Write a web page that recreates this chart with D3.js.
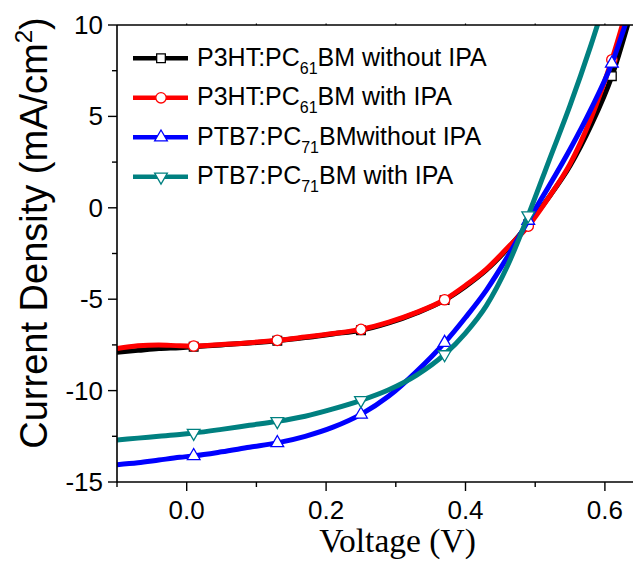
<!DOCTYPE html>
<html lang="en">
<head>
  <meta charset="UTF-8">
  <script src="https://d3js.org/d3.v7.min.js"></script>
  <title>J-V curves</title>
  <style>
    body { margin: 0; background: #fff; }
    svg { display: block; }
    .tick-label { font-family: "Liberation Sans", Arial, sans-serif; font-size: 26px; fill: #000; }
    .legend text { font-family: "Liberation Sans", Arial, sans-serif; font-size: 25px; fill: #000; }
  </style>
</head>
<body>
  <svg></svg>
  <script>
    const WIDTH = 633
    const HEIGHT = 563

    // data
    const voltage = [-0.1, -0.07, -0.04, -0.01, 0.01, 0.05, 0.09, 0.13, 0.17, 0.21, 0.25, 0.29,
      0.33, 0.37, 0.40, 0.43, 0.46, 0.49, 0.52, 0.55, 0.58, 0.61, 0.64]
    const p3htWithout = [-7.9, -7.8, -7.7, -7.65, -7.6, -7.5, -7.4, -7.27, -7.1, -6.9, -6.7, -6.3,
      -5.75, -5.05, -4.3, -3.4, -2.25, -0.9, 0.6, 2.3, 4.5, 7.2, 11.0]
    const p3htWith = [-7.7, -7.55, -7.5, -7.55, -7.56, -7.48, -7.38, -7.25, -7.07, -6.88, -6.65, -6.25,
      -5.72, -5.03, -4.25, -3.35, -2.2, -1.0, 0.6, 2.4, 4.9, 8.1, 12.0]
    const ptb7Without = [-14.05, -13.95, -13.8, -13.65, -13.57, -13.35, -13.1, -12.86, -12.5, -12.0, -11.3, -10.3,
      -8.95, -7.38, -6.0, -4.5, -2.7, -0.7, 1.2, 3.2, 5.4, 7.9, 11.3]
    const ptb7With = [-12.7, -12.6, -12.5, -12.4, -12.32, -12.12, -11.9, -11.68, -11.4, -11.0, -10.53, -9.95,
      -9.15, -8.02, -6.85, -5.35, -3.2, -0.42, 2.6, 5.6, 8.9, 12.5, 16.0]
    const markerVoltage = [0.01, 0.13, 0.25, 0.37, 0.49, 0.61]

    const xTicks = [0.0, 0.2, 0.4, 0.6]
    const xMinorTicks = [-0.1, 0.1, 0.3, 0.5]
    const yTicks = [-15, -10, -5, 0, 5, 10]
    const yMinorTicks = [-12.5, -7.5, -2.5, 2.5, 7.5]

    const series = [
      { name: 'P3HT:PC', sub: '61', rest: 'BM without IPA', values: p3htWithout, color: '#000000', symbol: d3.symbolSquare, size: 75, rot: 0 },
      { name: 'P3HT:PC', sub: '61', rest: 'BM with IPA', values: p3htWith, color: '#ff0000', symbol: d3.symbolCircle, size: 85, rot: 0 },
      { name: 'PTB7:PC', sub: '71', rest: 'BMwithout IPA', values: ptb7Without, color: '#0000ff', symbol: d3.symbolTriangle, size: 70, rot: 0 },
      { name: 'PTB7:PC', sub: '71', rest: 'BM with IPA', values: ptb7With, color: '#008080', symbol: d3.symbolTriangle, size: 70, rot: 180 }
    ]

    const plotLeft = 117, plotTop = 25, plotBottom = 482
    const x = d3.scaleLinear().domain([-0.1, 0.7]).range([plotLeft, plotLeft + 0.8 * 697])
    const y = d3.scaleLinear().domain([-15, 10]).range([plotBottom, plotTop])

    const svg = d3.select('svg')
      .attr('width', WIDTH)
      .attr('height', HEIGHT)

    svg.append('clipPath').attr('id', 'plot-clip')
      .append('rect')
      .attr('x', plotLeft).attr('y', plotTop)
      .attr('width', x(0.7) - plotLeft).attr('height', plotBottom - plotTop)

    // curves
    const line = d3.line()
      .x((d) => x(d[0]))
      .y((d) => y(d[1]))
      .curve(d3.curveMonotoneX)

    const plot = svg.append('g').attr('clip-path', 'url(#plot-clip)')

    series.forEach((s) => {
      const pts = voltage.map((v, i) => [v, s.values[i]])
      plot.append('path')
        .datum(pts)
        .attr('fill', 'none')
        .attr('stroke', s.color)
        .attr('stroke-width', 5)
        .attr('stroke-linejoin', 'round')
        .attr('d', line)

      plot.selectAll(null)
        .data(pts.filter((p) => markerVoltage.some((m) => Math.abs(m - p[0]) < 1e-6)))
        .enter().append('path')
        .attr('d', d3.symbol().type(s.symbol).size(s.size))
        .attr('transform', (d) => `translate(${x(d[0])},${y(d[1])}) rotate(${s.rot})`)
        .attr('fill', '#fff')
        .attr('stroke', s.color)
        .attr('stroke-width', 1.3)
    })

    // axes
    const axisG = svg.append('g')
    axisG.append('line')
      .attr('x1', plotLeft).attr('x2', plotLeft).attr('y1', plotTop).attr('y2', plotBottom + 0.5)
      .attr('stroke', '#000').attr('stroke-width', 1.6)
    axisG.append('line')
      .attr('x1', plotLeft).attr('x2', WIDTH).attr('y1', plotBottom).attr('y2', plotBottom)
      .attr('stroke', '#000').attr('stroke-width', 1.6)
    axisG.append('line')
      .attr('x1', plotLeft).attr('x2', WIDTH).attr('y1', plotTop).attr('y2', plotTop)
      .attr('stroke', '#000').attr('stroke-width', 1.4)

    axisG.selectAll('.xmaj')
      .data(xTicks.concat(xMinorTicks))
      .enter().append('line')
      .attr('x1', (d) => x(d)).attr('x2', (d) => x(d))
      .attr('y1', plotBottom)
      .attr('y2', (d) => plotBottom + (xTicks.includes(d) ? 9 : 5))
      .attr('stroke', '#000').attr('stroke-width', 1.4)

    axisG.selectAll('.xtop')
      .data(xTicks.concat(xMinorTicks).filter((d) => d > -0.1))
      .enter().append('line')
      .attr('x1', (d) => x(d)).attr('x2', (d) => x(d))
      .attr('y1', plotTop).attr('y2', plotTop - 1.5)
      .attr('stroke', '#000').attr('stroke-width', 1.2)

    axisG.selectAll('.ymaj')
      .data(yTicks.concat(yMinorTicks))
      .enter().append('line')
      .attr('y1', (d) => y(d)).attr('y2', (d) => y(d))
      .attr('x1', plotLeft)
      .attr('x2', (d) => plotLeft - (yTicks.includes(d) ? 9 : 5))
      .attr('stroke', '#000').attr('stroke-width', 1.4)

    axisG.selectAll('.xlab')
      .data(xTicks)
      .enter().append('text')
      .attr('class', 'tick-label')
      .attr('x', (d) => x(d))
      .attr('y', 519)
      .attr('text-anchor', 'middle')
      .text((d) => d.toFixed(1))

    axisG.selectAll('.ylab')
      .data(yTicks)
      .enter().append('text')
      .attr('class', 'tick-label')
      .attr('x', 103)
      .attr('y', (d) => y(d) + 9)
      .attr('text-anchor', 'end')
      .text((d) => d)

    // axis titles
    svg.append('text')
      .attr('x', 397.5)
      .attr('y', 552)
      .attr('text-anchor', 'middle')
      .style('font-family', '"Liberation Serif", "Times New Roman", serif')
      .style('font-size', '33.5px')
      .text('Voltage (V)')

    const yTitle = svg.append('text')
      .attr('transform', 'translate(47,233) rotate(-90)')
      .attr('text-anchor', 'middle')
      .style('font-family', '"Liberation Sans", Arial, sans-serif')
      .style('font-size', '38px')
    yTitle.append('tspan').text('Current Density (mA/cm')
    yTitle.append('tspan').attr('dy', -15).style('font-size', '24px').text('2')
    yTitle.append('tspan').attr('dy', 15).text(')')

    // legend
    const legend = svg.append('g').attr('class', 'legend')
    const rows = legend.selectAll('g')
      .data(series)
      .enter().append('g')
      .attr('transform', (d, i) => `translate(0,${58.3 + i * 39.5})`)

    rows.append('line')
      .attr('x1', 133).attr('x2', 188).attr('y1', 0).attr('y2', 0)
      .attr('stroke', (d) => d.color)
      .attr('stroke-width', 4.5)

    rows.append('path')
      .attr('d', (d) => d3.symbol().type(d.symbol).size(d.size)())
      .attr('transform', (d) => `translate(161,0) rotate(${d.rot})`)
      .attr('fill', '#fff')
      .attr('stroke', (d) => d.color)
      .attr('stroke-width', 1.3)

    const label = rows.append('text')
      .attr('x', 197)
      .attr('y', 7.5)
    label.append('tspan').text((d) => d.name)
    label.append('tspan').attr('dy', 8).style('font-size', '16px').text((d) => d.sub)
    label.append('tspan').attr('dy', -8).text((d) => d.rest)
  </script>
</body>
</html>
